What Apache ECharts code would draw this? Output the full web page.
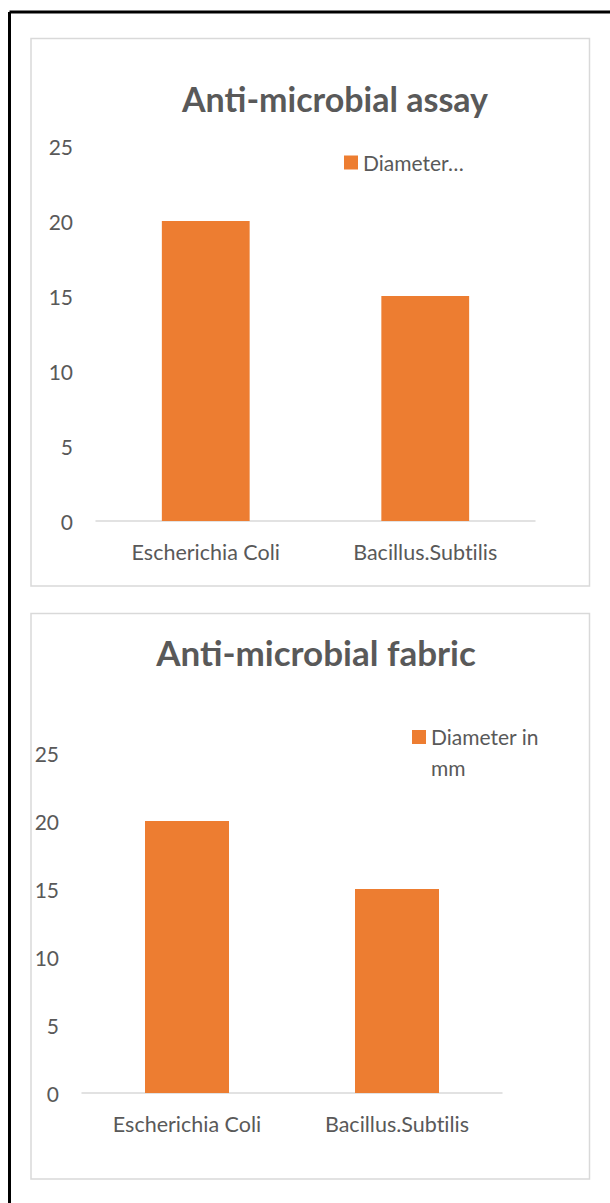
<!DOCTYPE html>
<html>
<head>
<meta charset="utf-8">
<script src="https://cdn.jsdelivr.net/npm/echarts@6/dist/echarts.min.js"></script>
<style>
  html, body { margin: 0; padding: 0; background: #ffffff; }
  #chart { width: 610px; height: 1203px; }
  #chart text { font-variant-ligatures: none; }
</style>
</head>
<body>
<div id="chart"></div>
<script>
// Zone-of-inhibition diameters for two bacterial strains
const categories = ['Escherichia Coli', 'Bacillus.Subtilis'];
const assayValues = [20, 15];
const fabricValues = [20, 15];
const seriesName = 'Diameter in mm';
const titles = ['Anti-microbial assay', 'Anti-microbial fabric'];
const yTicks = { min: 0, max: 25, interval: 5 };

const FONT = 'Lato, "Noto Sans", sans-serif';
const TEXT = '#595959';
const BAR = '#ED7D31';

const chart = echarts.init(document.getElementById('chart'), null, { renderer: 'svg' });

function xAxisFor(gridIndex) {
  return {
    type: 'category',
    gridIndex,
    data: categories,
    axisTick: { show: false },
    axisLine: { lineStyle: { color: '#d9d9d9', width: 1.5 } },
    axisLabel: { color: TEXT, fontFamily: FONT, fontSize: 21.5, margin: 20 }
  };
}
function yAxisFor(gridIndex) {
  return {
    type: 'value',
    gridIndex,
    min: yTicks.min,
    max: yTicks.max,
    interval: yTicks.interval,
    axisLine: { show: false },
    axisTick: { show: false },
    splitLine: { show: false },
    axisLabel: { color: TEXT, fontFamily: FONT, fontSize: 21, margin: 23 }
  };
}

// second legend: name wrapped before its last word, first line level with the swatch
function wrapLastWord(name) {
  const i = name.lastIndexOf(' ');
  return '{l1|' + name.slice(0, i) + '}\n{l2|' + name.slice(i + 1) + '}';
}

chart.setOption({
  animation: false,
  graphic: [
    // page frame
    { type: 'line', shape: { x1: 9.5, y1: 12, x2: 610, y2: 12 }, style: { stroke: '#000', lineWidth: 3 }, z: 0 },
    { type: 'line', shape: { x1: 9.5, y1: 12, x2: 9.5, y2: 1203 }, style: { stroke: '#000', lineWidth: 3 }, z: 0 },
    // chart panels
    { type: 'rect', shape: { x: 31, y: 38.5, width: 558.5, height: 547.5 }, style: { fill: '#fff', stroke: '#d9d9d9', lineWidth: 1.5 }, z: 0 },
    { type: 'rect', shape: { x: 31, y: 613.5, width: 558.5, height: 565.5 }, style: { fill: '#fff', stroke: '#d9d9d9', lineWidth: 1.5 }, z: 0 },
    // titles
    { type: 'text', x: 335, y: 98, style: { text: titles[0], fill: TEXT, font: 'bold 34px ' + FONT, textAlign: 'center', textVerticalAlign: 'middle' }, z: 5 },
    { type: 'text', x: 316, y: 652, style: { text: titles[1], fill: TEXT, font: 'bold 35px ' + FONT, textAlign: 'center', textVerticalAlign: 'middle' }, z: 5 }
  ],
  grid: [
    { left: 96, top: 146, width: 439, height: 375 },
    { left: 82, top: 753, width: 420, height: 340 }
  ],
  xAxis: [xAxisFor(0), xAxisFor(1)],
  yAxis: [yAxisFor(0), yAxisFor(1)],
  legend: [
    {
      left: 344, top: 152, padding: 0,
      data: [seriesName],
      icon: 'rect', itemWidth: 14, itemHeight: 14, itemGap: 6,
      selectedMode: false,
      // narrow legend box: the name is cut after its first word
      formatter: name => name.split(' ')[0] + '…',
      textStyle: { color: TEXT, fontFamily: FONT, fontSize: 21 }
    },
    {
      left: 412, top: 726, padding: 0,
      data: [seriesName],
      icon: 'rect', itemWidth: 14, itemHeight: 14, itemGap: 6,
      selectedMode: false,
      formatter: wrapLastWord,
      textStyle: {
        color: TEXT, fontFamily: FONT, fontSize: 21,
        rich: {
          l1: { color: TEXT, fontFamily: FONT, fontSize: 21, lineHeight: 60 },
          l2: { color: TEXT, fontFamily: FONT, fontSize: 21, lineHeight: 1 }
        }
      }
    }
  ],
  series: [
    { name: seriesName, type: 'bar', xAxisIndex: 0, yAxisIndex: 0, data: assayValues, barWidth: '40%', itemStyle: { color: BAR } },
    { name: seriesName, type: 'bar', xAxisIndex: 1, yAxisIndex: 1, data: fabricValues, barWidth: '40%', itemStyle: { color: BAR } }
  ]
});
</script>
</body>
</html>
